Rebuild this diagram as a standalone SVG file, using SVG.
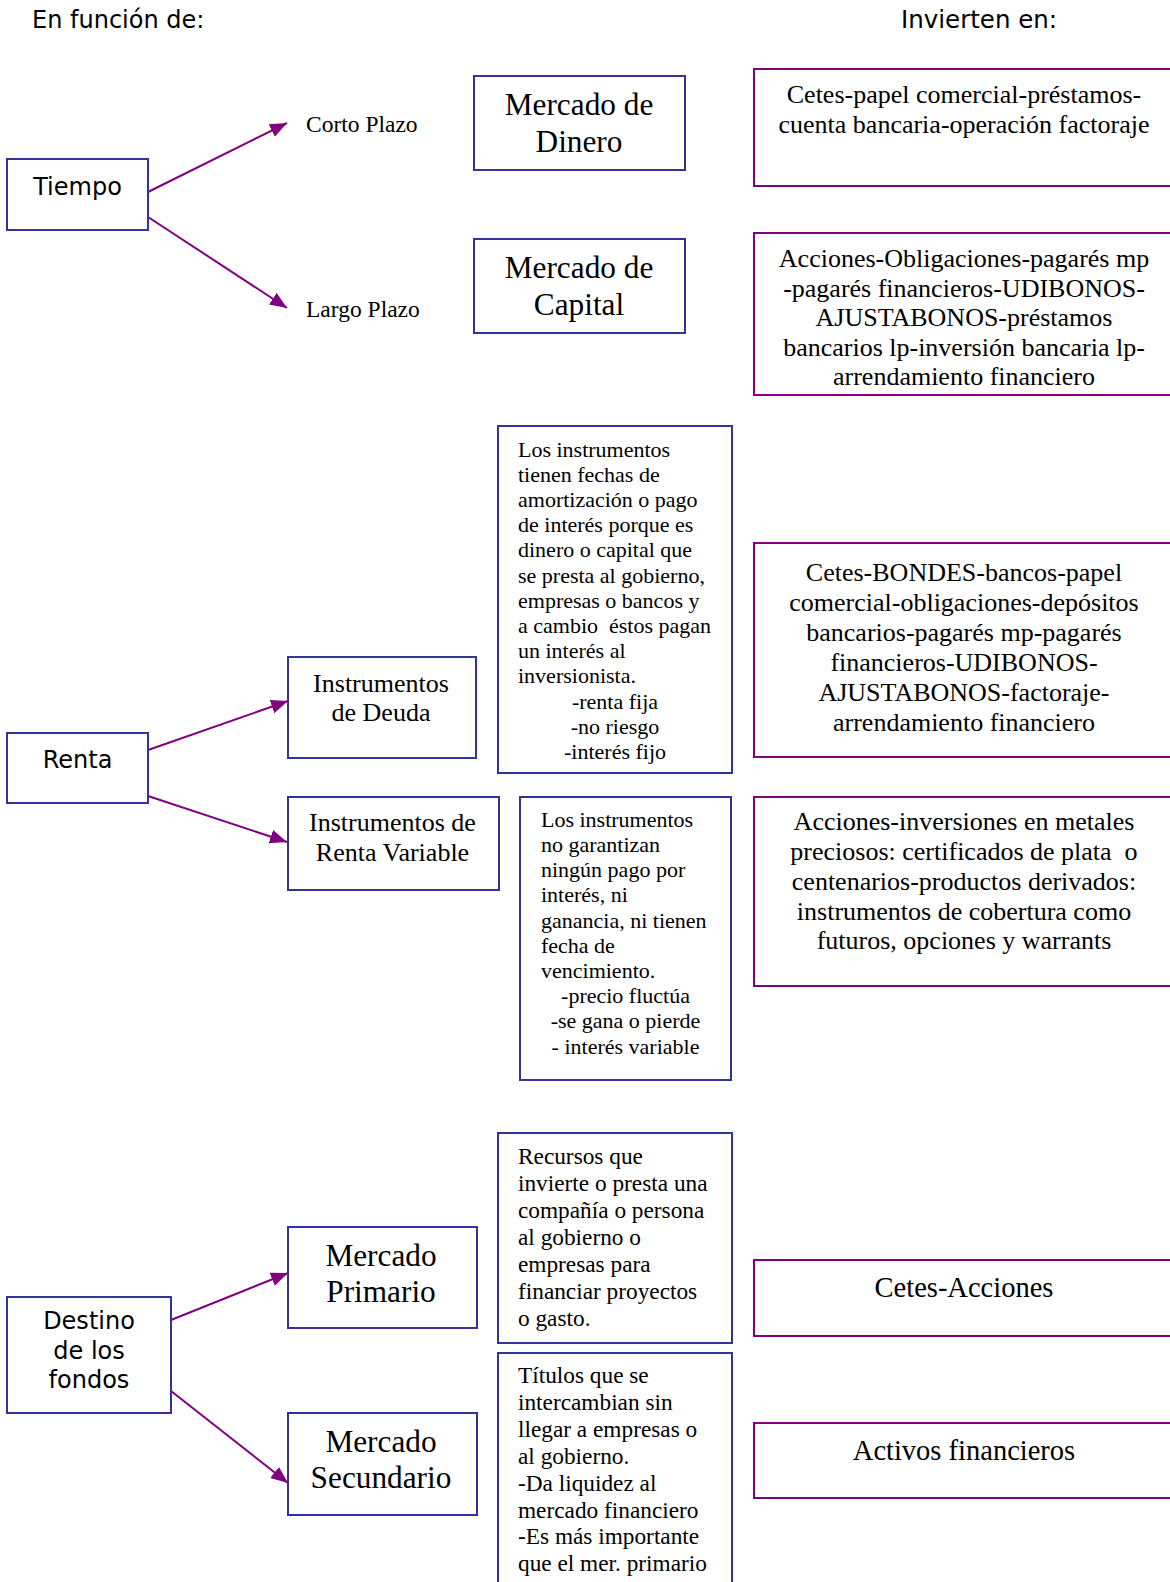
<svg xmlns="http://www.w3.org/2000/svg" width="1170" height="1582" viewBox="0 0 1170 1582">
  <style>
    .bg { fill: #ffffff; }
    .blue { fill: #ffffff; stroke: #333399; stroke-width: 2; }
    .purple { fill: #ffffff; stroke: #800080; stroke-width: 2; }
    .sans { font-family: "DejaVu Sans", Verdana, sans-serif; font-size: 24px; fill: #000; }
    .serif { font-family: "Liberation Serif", "Times New Roman", serif; fill: #000; }
    .s30 { font-size: 31.3px; }
    .s28 { font-size: 28.5px; }
    .s26 { font-size: 26px; }
    .s24 { font-size: 23.5px; }
    .s23 { font-size: 23.3px; }
    .s22 { font-size: 22px; }
    .mid { text-anchor: middle; }
    .conn { stroke: #800080; stroke-width: 2; fill: none; marker-end: url(#arrow); }
  </style>
  <defs>
    <marker id="arrow" markerUnits="userSpaceOnUse" markerWidth="18" markerHeight="14" refX="17" refY="7" orient="auto">
      <path d="M0,0 L17,7 L0,14 z" fill="#800080"/>
    </marker>
  </defs>

  <rect class="bg" x="0" y="0" width="1170" height="1582"/>

  <!-- column headings -->
  <text class="sans" x="32" y="28">En función de:</text>
  <text class="sans" x="901" y="28" style="font-size:24.5px">Invierten en:</text>

  <!-- connectors -->
  <g id="connectors">
    <line class="conn" x1="148" y1="192" x2="287" y2="123"/>
    <line class="conn" x1="148" y1="217" x2="287" y2="308"/>
    <line class="conn" x1="148" y1="750" x2="288" y2="701"/>
    <line class="conn" x1="148" y1="796" x2="287" y2="842"/>
    <line class="conn" x1="171" y1="1320" x2="288" y2="1273"/>
    <line class="conn" x1="171" y1="1391" x2="288" y2="1483"/>
  </g>

  <!-- criteria -->
  <g id="tiempo">
    <rect class="blue" x="7" y="159" width="141" height="71"/>
    <text class="sans mid" x="77.5" y="195">Tiempo</text>
  </g>
  <g id="renta">
    <rect class="blue" x="7" y="733" width="141" height="70"/>
    <text class="sans mid" x="77.5" y="768">Renta</text>
  </g>
  <g id="destino">
    <rect class="blue" x="7" y="1297" width="164" height="116"/>
    <text class="sans mid" x="89" y="1329">Destino</text>
    <text class="sans mid" x="89" y="1359">de los</text>
    <text class="sans mid" x="89" y="1388">fondos</text>
  </g>

  <!-- term labels -->
  <g id="corto-plazo">
    <text class="serif s24" x="306" y="132">Corto Plazo</text>
  </g>
  <g id="largo-plazo">
    <text class="serif s24" x="306" y="317">Largo Plazo</text>
  </g>

  <!-- markets by term -->
  <g id="mercado-dinero">
    <rect class="blue" x="474" y="76" width="211" height="94"/>
    <text class="serif s30 mid" x="579" y="115">Mercado de</text>
    <text class="serif s30 mid" x="579" y="152">Dinero</text>
  </g>
  <g id="mercado-capital">
    <rect class="blue" x="474" y="239" width="211" height="94"/>
    <text class="serif s30 mid" x="579" y="278">Mercado de</text>
    <text class="serif s30 mid" x="579" y="315">Capital</text>
  </g>

  <g id="invierte-dinero">
    <rect class="purple" x="754" y="69" width="420" height="117"/>
    <text class="serif s26 mid" x="964" y="103">Cetes-papel comercial-préstamos-</text>
    <text class="serif s26 mid" x="964" y="133">cuenta bancaria-operación factoraje</text>
  </g>
  <g id="invierte-capital">
    <rect class="purple" x="754" y="233" width="420" height="162"/>
    <text class="serif s26 mid" x="964" y="267">Acciones-Obligaciones-pagarés mp</text>
    <text class="serif s26 mid" x="964" y="296.6">-pagarés financieros-UDIBONOS-</text>
    <text class="serif s26 mid" x="964" y="326.2">AJUSTABONOS-préstamos</text>
    <text class="serif s26 mid" x="964" y="355.8">bancarios lp-inversión bancaria lp-</text>
    <text class="serif s26 mid" x="964" y="385.4">arrendamiento financiero</text>
  </g>

  <!-- income instruments -->
  <g id="instrumentos-deuda">
    <rect class="blue" x="288" y="657" width="188" height="101"/>
    <text class="serif s26 mid" x="381" y="692">Instrumentos</text>
    <text class="serif s26 mid" x="381" y="721">de Deuda</text>
  </g>
  <g id="instrumentos-variable">
    <rect class="blue" x="288" y="797" width="211" height="93"/>
    <text class="serif s26 mid" x="392.5" y="831">Instrumentos de</text>
    <text class="serif s26 mid" x="392.5" y="861">Renta Variable</text>
  </g>

  <g id="nota-deuda">
    <rect class="blue" x="498" y="426" width="234" height="347"/>
    <text class="serif s22" x="518" y="456.5">Los instrumentos</text>
    <text class="serif s22" x="518" y="481.7">tienen fechas de</text>
    <text class="serif s22" x="518" y="506.9">amortización o pago</text>
    <text class="serif s22" x="518" y="532.1">de interés porque es</text>
    <text class="serif s22" x="518" y="557.3">dinero o capital que</text>
    <text class="serif s22" x="518" y="582.5">se presta al gobierno,</text>
    <text class="serif s22" x="518" y="607.7">empresas o bancos y</text>
    <text class="serif s22" x="518" y="632.9" xml:space="preserve">a cambio  éstos pagan</text>
    <text class="serif s22" x="518" y="658.1">un interés al</text>
    <text class="serif s22" x="518" y="683.3">inversionista.</text>
    <text class="serif s22 mid" x="615" y="708.5">-renta fija</text>
    <text class="serif s22 mid" x="615" y="733.7">-no riesgo</text>
    <text class="serif s22 mid" x="615" y="758.9">-interés fijo</text>
  </g>
  <g id="nota-variable">
    <rect class="blue" x="520" y="797" width="211" height="283"/>
    <text class="serif s22" x="541" y="826.7">Los instrumentos</text>
    <text class="serif s22" x="541" y="851.9">no garantizan</text>
    <text class="serif s22" x="541" y="877.1">ningún pago por</text>
    <text class="serif s22" x="541" y="902.3">interés, ni</text>
    <text class="serif s22" x="541" y="927.5">ganancia, ni tienen</text>
    <text class="serif s22" x="541" y="952.7">fecha de</text>
    <text class="serif s22" x="541" y="977.9">vencimiento.</text>
    <text class="serif s22 mid" x="625.5" y="1003.1">-precio fluctúa</text>
    <text class="serif s22 mid" x="625.5" y="1028.3">-se gana o pierde</text>
    <text class="serif s22 mid" x="625.5" y="1053.5">- interés variable</text>
  </g>

  <g id="invierte-deuda">
    <rect class="purple" x="754" y="543" width="420" height="214"/>
    <text class="serif s26 mid" x="964" y="581">Cetes-BONDES-bancos-papel</text>
    <text class="serif s26 mid" x="964" y="611">comercial-obligaciones-depósitos</text>
    <text class="serif s26 mid" x="964" y="641">bancarios-pagarés mp-pagarés</text>
    <text class="serif s26 mid" x="964" y="671">financieros-UDIBONOS-</text>
    <text class="serif s26 mid" x="964" y="701">AJUSTABONOS-factoraje-</text>
    <text class="serif s26 mid" x="964" y="731">arrendamiento financiero</text>
  </g>
  <g id="invierte-variable">
    <rect class="purple" x="754" y="797" width="420" height="189"/>
    <text class="serif s26 mid" x="964" y="830">Acciones-inversiones en metales</text>
    <text class="serif s26 mid" x="964" y="860" xml:space="preserve">preciosos: certificados de plata  o</text>
    <text class="serif s26 mid" x="964" y="890">centenarios-productos derivados:</text>
    <text class="serif s26 mid" x="964" y="920">instrumentos de cobertura como</text>
    <text class="serif s26 mid" x="964" y="949">futuros, opciones y warrants</text>
  </g>

  <!-- markets by destination of funds -->
  <g id="mercado-primario">
    <rect class="blue" x="288" y="1227" width="189" height="101"/>
    <text class="serif s30 mid" x="381" y="1266">Mercado</text>
    <text class="serif s30 mid" x="381" y="1302">Primario</text>
  </g>
  <g id="mercado-secundario">
    <rect class="blue" x="288" y="1413" width="189" height="102"/>
    <text class="serif s30 mid" x="381" y="1452">Mercado</text>
    <text class="serif s30 mid" x="381" y="1488">Secundario</text>
  </g>

  <g id="nota-primario">
    <rect class="blue" x="498" y="1133" width="234" height="210"/>
    <text class="serif s23" x="518" y="1164.3">Recursos que</text>
    <text class="serif s23" x="518" y="1191.2">invierte o presta una</text>
    <text class="serif s23" x="518" y="1218.1">compañía o persona</text>
    <text class="serif s23" x="518" y="1245">al gobierno o</text>
    <text class="serif s23" x="518" y="1271.9">empresas para</text>
    <text class="serif s23" x="518" y="1298.8">financiar proyectos</text>
    <text class="serif s23" x="518" y="1325.7">o gasto.</text>
  </g>
  <g id="nota-secundario">
    <rect class="blue" x="498" y="1353" width="234" height="260"/>
    <text class="serif s23" x="518" y="1383.3">Títulos que se</text>
    <text class="serif s23" x="518" y="1410.2">intercambian sin</text>
    <text class="serif s23" x="518" y="1437">llegar a empresas o</text>
    <text class="serif s23" x="518" y="1463.9">al gobierno.</text>
    <text class="serif s23" x="518" y="1490.7">-Da liquidez al</text>
    <text class="serif s23" x="518" y="1517.6">mercado financiero</text>
    <text class="serif s23" x="518" y="1544.4">-Es más importante</text>
    <text class="serif s23" x="518" y="1571.3">que el mer. primario</text>
  </g>

  <g id="invierte-primario">
    <rect class="purple" x="754" y="1260" width="420" height="76"/>
    <text class="serif s28 mid" x="964" y="1297">Cetes-Acciones</text>
  </g>
  <g id="invierte-secundario">
    <rect class="purple" x="754" y="1423" width="420" height="75"/>
    <text class="serif s28 mid" x="964" y="1460">Activos financieros</text>
  </g>
</svg>
